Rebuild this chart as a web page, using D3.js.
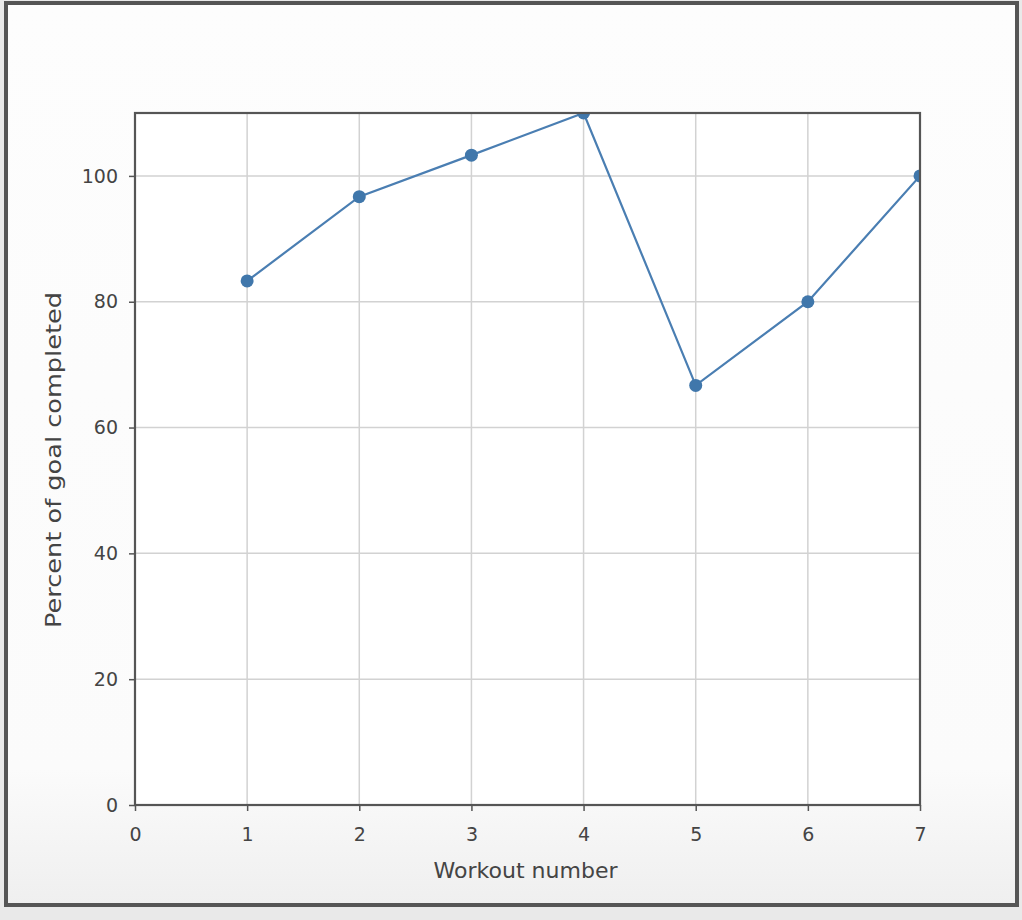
<!DOCTYPE html>
<html>
<head>
<meta charset="utf-8">
<script src="https://cdn.jsdelivr.net/npm/d3@7"></script>
<style>
  body { margin: 0; background: #e9e9e9; }
  svg { display: block; }
  text { font-family: "DejaVu Sans", sans-serif; fill: #444; }
</style>
</head>
<body>
<div id="chart"></div>
<script>
// workout data
const workouts = [1, 2, 3, 4, 5, 6, 7];
const percentDone = [83.3, 96.7, 103.3, 110, 66.7, 80, 100];
const xTicks = [0, 1, 2, 3, 4, 5, 6, 7];
const yTicks = [0, 20, 40, 60, 80, 100];

const width = 1022, height = 920;
const margin = { top: 113, right: 102, bottom: 115, left: 135 };
const w = width - margin.left - margin.right;
const h = height - margin.top - margin.bottom;

const svg = d3.select("#chart").append("svg")
  .attr("width", width)
  .attr("height", height);

// screenshot frame
const grad = svg.append("defs").append("linearGradient")
  .attr("id", "bg").attr("x1", 0).attr("y1", 0).attr("x2", 0).attr("y2", 1);
grad.append("stop").attr("offset", "0%").attr("stop-color", "#fdfdfd");
grad.append("stop").attr("offset", "85%").attr("stop-color", "#fbfbfb");
grad.append("stop").attr("offset", "100%").attr("stop-color", "#efefef");

svg.append("rect").attr("width", width).attr("height", height).attr("fill", "#e9e9e9");
svg.append("rect")
  .attr("x", 6).attr("y", 3).attr("width", 1011).attr("height", 902)
  .attr("fill", "url(#bg)")
  .attr("stroke", "#555").attr("stroke-width", 4);

svg.select("defs").append("clipPath").attr("id", "plotclip")
  .append("rect").attr("width", w).attr("height", h);

const g = svg.append("g")
  .attr("transform", "translate(" + margin.left + "," + margin.top + ")");

const x = d3.scaleLinear().domain([0, 7]).range([0, w]);
const y = d3.scaleLinear().domain([0, 110]).range([h, 0]);

g.append("rect").attr("width", w).attr("height", h).attr("fill", "#fff");

// grid
g.append("g")
  .selectAll("line")
  .data(xTicks)
  .enter()
  .append("line")
  .attr("x1", (d) => x(d)).attr("x2", (d) => x(d))
  .attr("y1", 0).attr("y2", h)
  .attr("stroke", "#d2d2d2").attr("stroke-width", 1.5);
g.append("g")
  .selectAll("line")
  .data(yTicks)
  .enter()
  .append("line")
  .attr("y1", (d) => y(d)).attr("y2", (d) => y(d))
  .attr("x1", 0).attr("x2", w)
  .attr("stroke", "#d2d2d2").attr("stroke-width", 1.5);

// data line + markers, clipped to the axes
const pts = workouts.map((d, i) => ({ x: d, y: percentDone[i] }));
const plot = g.append("g").attr("clip-path", "url(#plotclip)");
plot.append("path")
  .datum(pts)
  .attr("fill", "none")
  .attr("stroke", "#4a7eb2")
  .attr("stroke-width", 2.2)
  .attr("d", d3.line().x((d) => x(d.x)).y((d) => y(d.y)));
plot.selectAll("circle")
  .data(pts)
  .enter()
  .append("circle")
  .attr("cx", (d) => x(d.x))
  .attr("cy", (d) => y(d.y))
  .attr("r", 6.5)
  .attr("fill", "#4077ab");

// axes
const xAxis = g.append("g")
  .attr("transform", "translate(0," + h + ")")
  .call(d3.axisBottom(x).tickValues(xTicks).tickSize(6).tickPadding(17).tickFormat(d3.format("d")));
const yAxis = g.append("g")
  .call(d3.axisLeft(y).tickValues(yTicks).tickSize(6).tickPadding(11).tickFormat(d3.format("d")));
[xAxis, yAxis].forEach((a) => {
  a.select(".domain").remove();
  a.selectAll("line").attr("stroke", "#555").attr("stroke-width", 1.5);
  a.selectAll("text").attr("font-size", 19).attr("fill", "#444")
    .style("font-family", "'DejaVu Sans', sans-serif");
});

// spines
g.append("rect")
  .attr("width", w).attr("height", h)
  .attr("fill", "none").attr("stroke", "#555").attr("stroke-width", 2.2);

// labels
g.append("text")
  .attr("x", w / 2 - 2).attr("y", h + 73)
  .attr("text-anchor", "middle")
  .attr("font-size", 21)
  .attr("textLength", 184)
  .attr("lengthAdjust", "spacingAndGlyphs")
  .text("Workout number");
g.append("text")
  .attr("transform", "translate(" + (-74) + "," + 347 + ") rotate(-90)")
  .attr("text-anchor", "middle")
  .attr("font-size", 22)
  .attr("textLength", 336)
  .attr("lengthAdjust", "spacingAndGlyphs")
  .text("Percent of goal completed");
</script>
</body>
</html>
